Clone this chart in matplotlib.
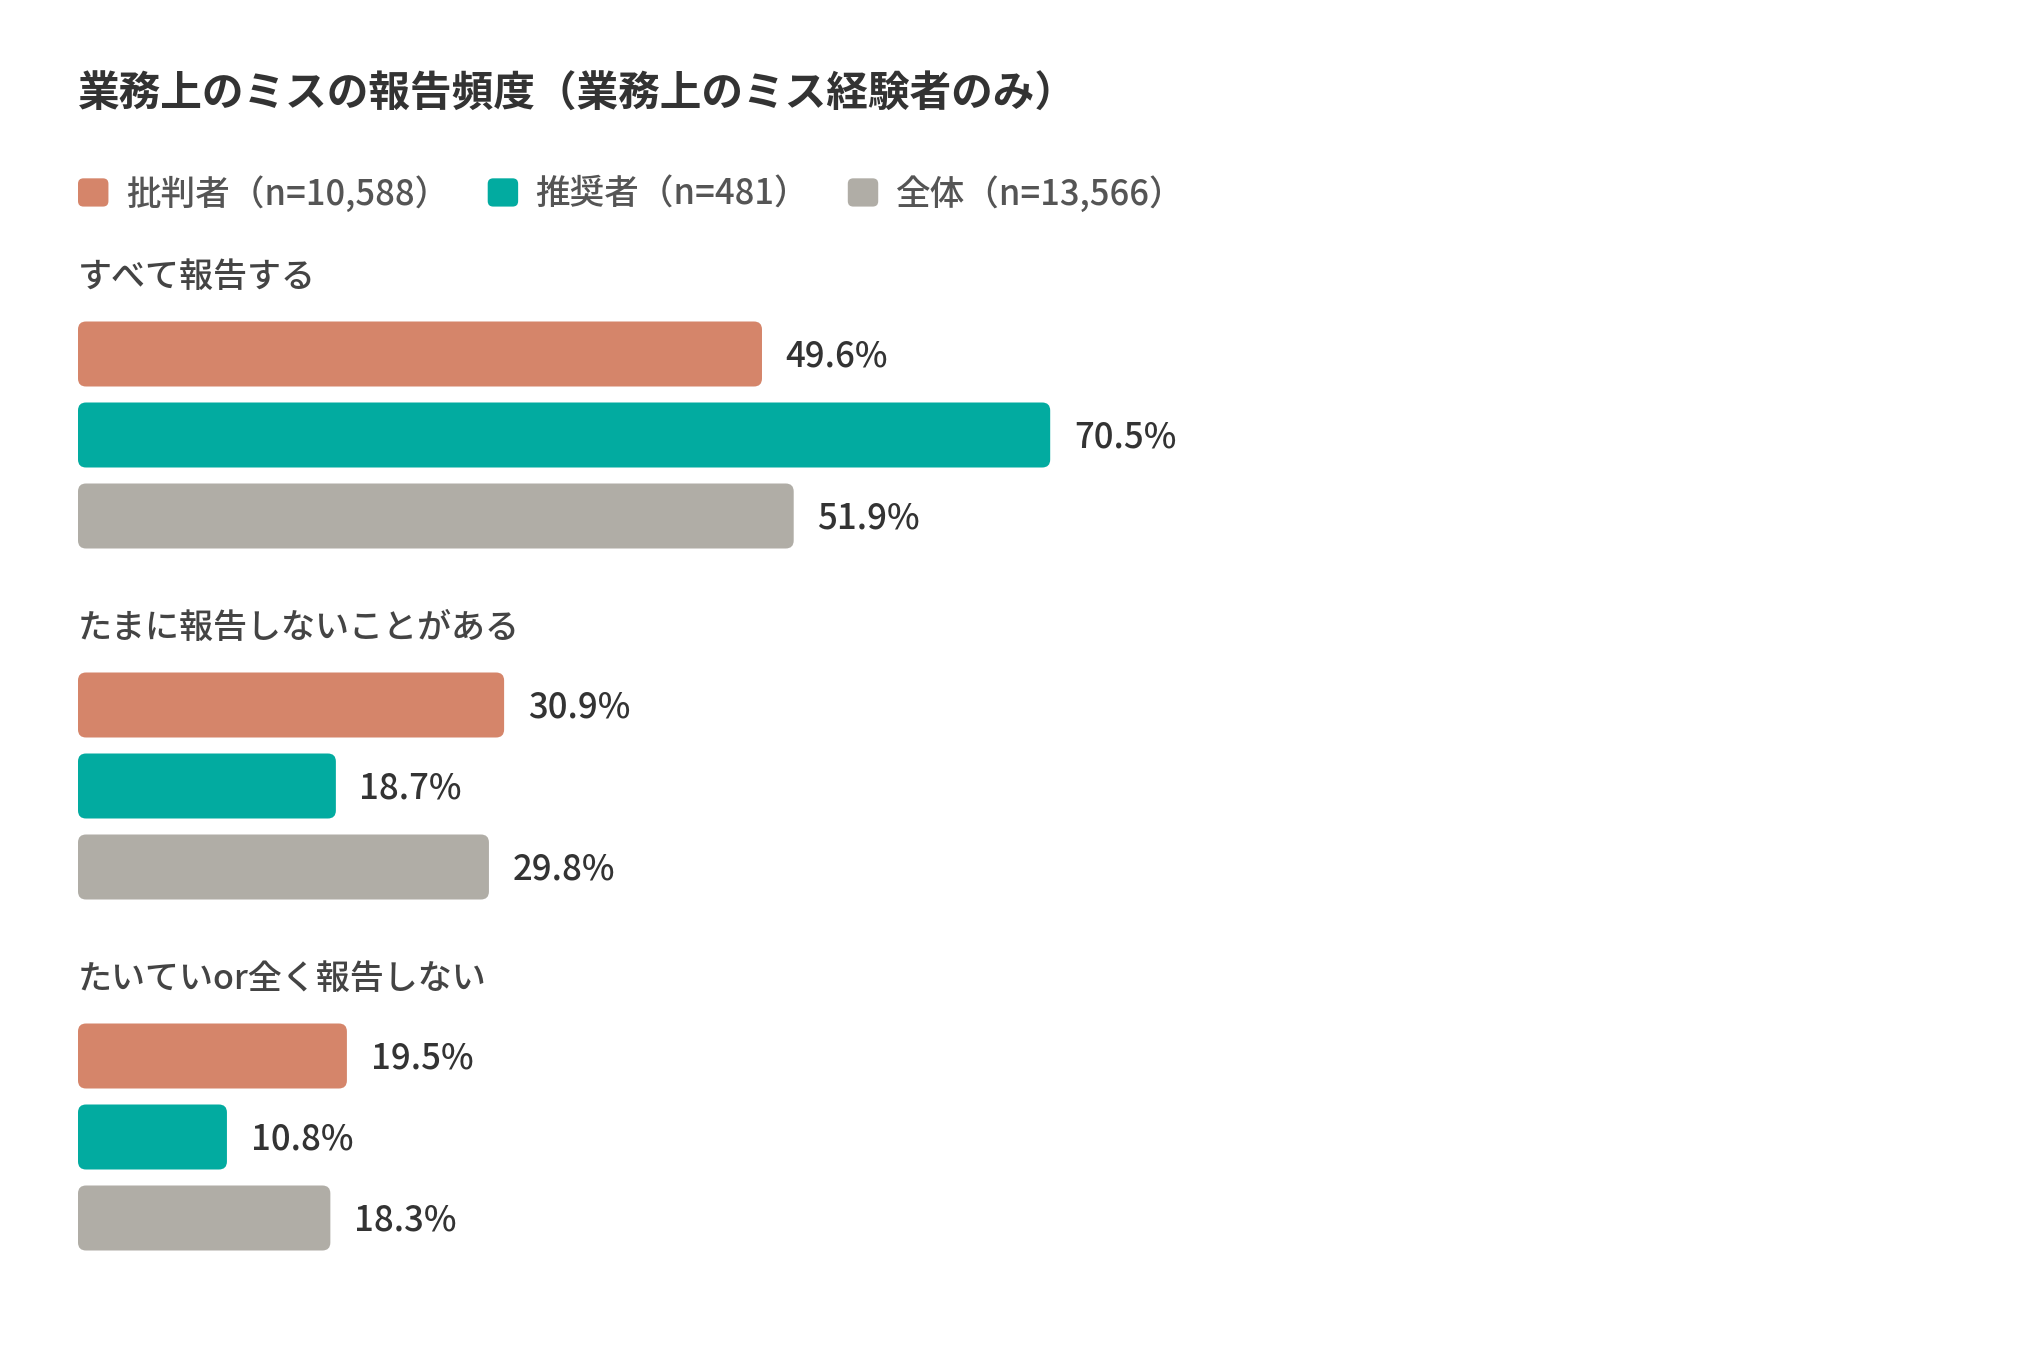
import numpy as np
import matplotlib.pyplot as plt
from matplotlib.patches import FancyBboxPatch, Patch
from matplotlib.legend_handler import HandlerPatch

plt.rcParams['font.family'] = ['Noto Sans CJK JP', 'DejaVu Sans']

# data
title = "業務上のミスの報告頻度（業務上のミス経験者のみ）"
categories = ["すべて報告する", "たまに報告しないことがある", "たいていor全く報告しない"]
series = ["批判者（n=10,588）", "推奨者（n=481）", "全体（n=13,566）"]
values = [
    [49.6, 30.9, 19.5],  # 批判者
    [70.5, 18.7, 10.8],  # 推奨者
    [51.9, 29.8, 18.3],  # 全体
]
colors = ["#D5856A", "#02ABA0", "#B0ADA6"]

W, H = 2040, 1359
fig = plt.figure(figsize=(W / 100, H / 100), dpi=100)

# axes: left edge of bars at 78px, 100% at 1457px; one row = 81px
left_px, full_px, row_px, top_row_px = 78, 1379, 81, 354
ax = fig.add_axes([left_px / W, 0, full_px / W, 1])
ax.set_xlim(0, 100)
ax.set_ylim(-top_row_px / row_px, (H - top_row_px) / row_px)
ax.invert_yaxis()
ax.axis('off')

group_step = 351 / row_px
bar_h = 65 / row_px
px_x = full_px / 100
aspect = px_x / row_px  # so corners look round in pixels

for g, cat in enumerate(categories):
    base = g * group_step
    ax.text(0, base - 0.95, cat, fontsize=24.5, fontweight='medium', color="#444444",
            va='center', ha='left')
    for s in range(len(series)):
        v = values[s][g]
        y = base + s
        bars = ax.barh(y, v, height=bar_h, color='none')
        b = bars[0]
        b.set_visible(False)
        r = 8 / px_x
        fb = FancyBboxPatch((b.get_x(), b.get_y()), b.get_width(), b.get_height(),
                            boxstyle=f"round,pad=0,rounding_size={r}",
                            mutation_aspect=aspect, fc=colors[s], ec='none')
        ax.add_patch(fb)
        ax.annotate(f"{v:.1f}%", (v, y), xytext=(17, -1.5), textcoords='offset points',
                    fontsize=25, fontweight='medium', color="#333333", va='center', ha='left')

fig.text(78 / W, 1 - 95 / H, title, fontsize=30, fontweight='bold', color="#333333",
         va='center', ha='left')


class RoundSwatch(HandlerPatch):
    def create_artists(self, legend, orig_handle, xdescent, ydescent, width, height,
                       fontsize, trans):
        p = FancyBboxPatch((-xdescent, -ydescent), width, height,
                           boxstyle=f"round,pad=0,rounding_size={width * 0.18}",
                           fc=orig_handle.get_facecolor(), ec='none', transform=trans)
        return [p]


handles = [Patch(fc=c, ec='none') for c in colors]
fig.legend(handles, series, loc='center left', bbox_to_anchor=(78 / W, 1 - 194 / H),
           ncol=3, frameon=False, labelcolor="#555555",
           prop={'weight': 'medium', 'size': 24.9},
           handlelength=0.88, handleheight=0.88, handletextpad=0.5, columnspacing=1.12,
           borderpad=0, borderaxespad=0, handler_map={Patch: RoundSwatch()})

fig.savefig("out.png", dpi=100, facecolor='white')
